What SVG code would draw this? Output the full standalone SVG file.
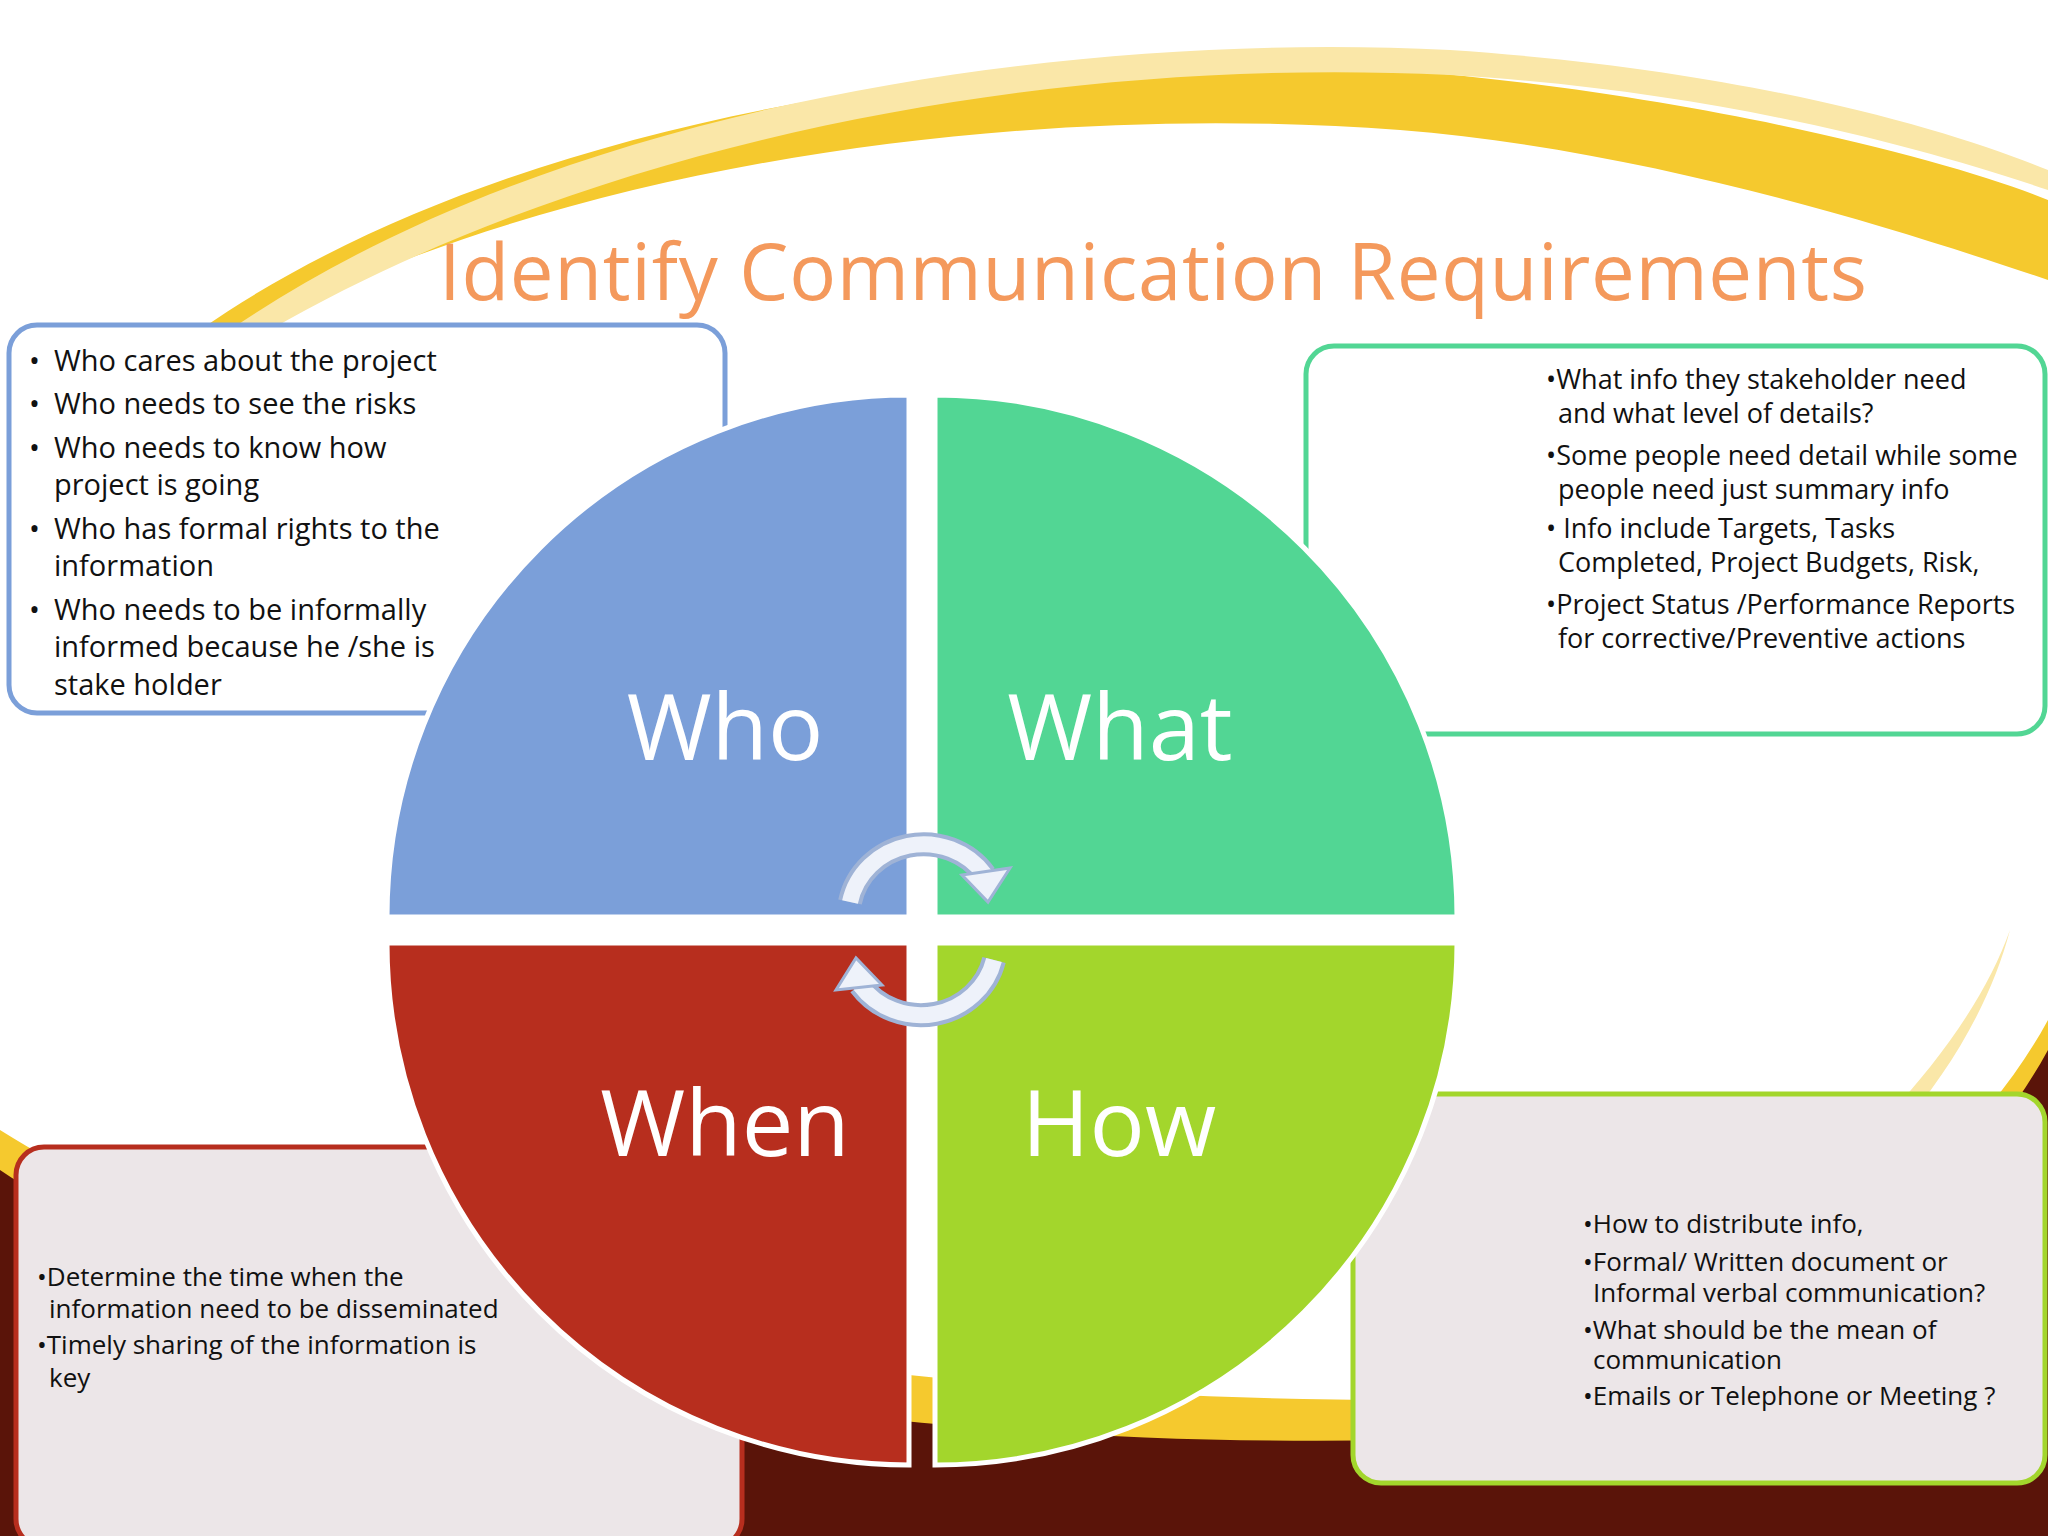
<svg xmlns="http://www.w3.org/2000/svg" width="2048" height="1536" viewBox="0 0 2048 1536">
<style>
.box{stroke-width:5;}
.t{font-family:"Open Sans","Liberation Sans",sans-serif;fill:#111;}
.big{font-family:"Open Sans","Liberation Sans",sans-serif;fill:#fff;font-size:92px;text-anchor:middle;}
.q{stroke:#fff;stroke-width:5;}
</style>
<rect width="2048" height="1536" fill="#fff"/>
<g id="background">
<path d="M200,330 C500,120 1000,40 1400,70 C1700,95 1950,160 2048,200 L2048,280 C1900,230 1650,150 1400,130 C1000,100 550,170 250,330 Z" fill="#F5C92E"/>
<path d="M230,330 C550,110 1050,30 1450,50 C1750,70 1950,130 2048,170 L2048,190 C1900,140 1700,90 1450,75 C1050,55 600,140 270,330 Z" fill="#FAE7A8"/>
<path d="M0,1130 C300,1320 900,1400 1400,1400 C1700,1380 1950,1200 2048,1020 L2048,1536 L0,1536 Z" fill="#F5C92E"/>
<path d="M0,1170 C300,1370 900,1450 1400,1440 C1700,1420 1950,1230 2048,1050 L2048,1536 L0,1536 Z" fill="#5A1409"/>
<path d="M1380,1410 C1700,1330 1950,1100 2010,930 C1960,1120 1750,1320 1420,1410 Z" fill="#FAE7A8"/>
</g>
<g id="title"><text x="439" y="300" font-family="'Open Sans','Liberation Sans',sans-serif" font-size="78" fill="#F4995C" textLength="1428">Identify Communication Requirements</text></g>
<g id="box-who"><rect class="box" x="9" y="325" width="716" height="388" rx="28" fill="#fff" stroke="#7B9FD9"/>
<g class="t" font-size="29">
<text x="29" y="371">•</text><text x="54" y="371">Who cares about the project</text>
<text x="29" y="414">•</text><text x="54" y="414">Who needs to see the risks</text>
<text x="29" y="458">•</text><text x="54" y="458">Who needs to know how</text>
<text x="54" y="495">project is going</text>
<text x="29" y="539">•</text><text x="54" y="539">Who has formal rights to the</text>
<text x="54" y="576">information</text>
<text x="29" y="620">•</text><text x="54" y="620">Who needs to be informally</text>
<text x="54" y="657">informed because he /she is</text>
<text x="54" y="695">stake holder</text></g></g>
<g id="box-what"><rect class="box" x="1306" y="346" width="739" height="388" rx="28" fill="#fff" stroke="#52D694"/>
<g class="t" font-size="27">
<text x="1546" y="389">•What info they stakeholder need</text>
<text x="1558" y="423">and what level of details?</text>
<text x="1546" y="465">•Some people need detail while some</text>
<text x="1558" y="499">people need just summary info</text>
<text x="1546" y="538">• Info include Targets, Tasks</text>
<text x="1558" y="572">Completed, Project Budgets, Risk,</text>
<text x="1546" y="614">•Project Status /Performance Reports</text>
<text x="1558" y="648">for corrective/Preventive actions</text></g></g>
<g id="box-when"><rect class="box" x="16" y="1147" width="726" height="400" rx="28" fill="#ECE6E8" stroke="#B72E1E"/>
<g class="t" font-size="26">
<text x="37" y="1286">•Determine the time when the</text>
<text x="49" y="1318">information need to be disseminated</text>
<text x="37" y="1354">•Timely sharing of the information is</text>
<text x="49" y="1387">key</text></g></g>
<g id="box-how"><rect class="box" x="1353" y="1094" width="692" height="389" rx="28" fill="#ECE6E8" stroke="#A3D62C"/>
<g class="t" font-size="26">
<text x="1583" y="1233">•How to distribute info,</text>
<text x="1583" y="1271">•Formal/ Written document or</text>
<text x="1593" y="1302">Informal verbal communication?</text>
<text x="1583" y="1339">•What should be the mean of</text>
<text x="1593" y="1369">communication</text>
<text x="1583" y="1405">•Emails  or Telephone or Meeting ?</text></g></g>
<g id="who"><path class="q" d="M909,917 L909,395 A522,522 0 0 0 387,917 Z" fill="#7B9FD9"/><text class="big" x="725" y="760">Who</text></g>
<g id="what"><path class="q" d="M935,917 L935,395 A522,522 0 0 1 1457,917 Z" fill="#52D694"/><text class="big" x="1120" y="760">What</text></g>
<g id="when"><path class="q" d="M909,943 L909,1465 A522,522 0 0 1 387,943 Z" fill="#B72E1E"/><text class="big" x="725" y="1156">When</text></g>
<g id="how"><path class="q" d="M935,943 L935,1465 A522,522 0 0 0 1457,943 Z" fill="#A3D62C"/><text class="big" x="1119" y="1156">How</text></g>
<g id="connectors">
<path d="M850,902 A75,72 0 0 1 985,875" fill="none" stroke="#9FB3D6" stroke-width="24"/>
<path d="M850,902 A75,72 0 0 1 985,875" fill="none" stroke="#EEF2FA" stroke-width="16"/>
<polygon points="962,875 1010,868 988,902" fill="#EEF2FA" stroke="#9FB3D6" stroke-width="3"/>
<path d="M994,960 A75,72 0 0 1 860,985" fill="none" stroke="#9FB3D6" stroke-width="24"/>
<path d="M994,960 A75,72 0 0 1 860,985" fill="none" stroke="#EEF2FA" stroke-width="16"/>
<polygon points="882,985 836,990 856,958" fill="#EEF2FA" stroke="#9FB3D6" stroke-width="3"/>
</g>
</svg>
